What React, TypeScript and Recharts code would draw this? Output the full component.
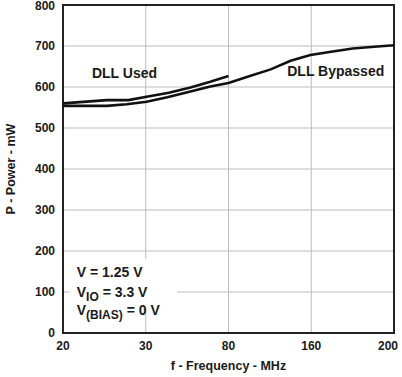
import React from 'react';
import { LineChart, Line, XAxis, YAxis, CartesianGrid, ReferenceArea, ReferenceDot, Label } from 'recharts';

// x values are axis slots: 0 = 20 MHz, 1 = 30, 2 = 80, 3 = 160, 4 = 200 (evenly spaced ticks)
const freqLabels = ['20', '30', '80', '160', '200'];
const slotTicks = [0, 1, 2, 3, 4];
const powerTicks = [0, 100, 200, 300, 400, 500, 600, 700, 800];

const usedSlot = [0, 0.53, 0.79, 1.01, 1.28, 1.54, 1.78, 2.0];
const usedPower = [560, 568, 568, 576, 586, 599, 613, 627];

const bypassSlot = [0, 0.53, 0.77, 1.01, 1.26, 1.54, 1.78, 2.0, 2.23, 2.51, 2.75, 2.99, 3.24, 3.5, 3.76, 4];
const bypassPower = [554, 554, 558, 564, 575, 589, 601, 610, 625, 643, 664, 678, 686, 694, 698, 702];

const usedData = usedSlot.map((s, i) => ({ slot: s, power: usedPower[i] }));
const bypassData = bypassSlot.map((s, i) => ({ slot: s, power: bypassPower[i] }));

const FONT = '"Liberation Sans", Arial, sans-serif';
const INK = '#1a1a1a';

const textAt = (lines: React.ReactNode) => ({ viewBox }: any) => (
  <text x={viewBox.x} y={viewBox.y} fontFamily={FONT} fontWeight="bold" fontSize={14} fill={INK}>
    {lines}
  </text>
);

const yTitle = ({ viewBox }: any) => (
  <text
    x={15}
    y={viewBox.y + viewBox.height / 2}
    transform={`rotate(-90, 15, ${viewBox.y + viewBox.height / 2})`}
    textAnchor="middle"
    fontFamily={FONT}
    fontWeight="bold"
    fontSize={12.5}
    fill={INK}
  >
    P - Power - mW
  </text>
);

const xTitle = ({ viewBox }: any) => (
  <text
    x={viewBox.x + viewBox.width / 2}
    y={370}
    textAnchor="middle"
    fontFamily={FONT}
    fontWeight="bold"
    fontSize={12.5}
    fill={INK}
  >
    f - Frequency - MHz
  </text>
);

// last frequency label is pulled inside the frame like the original
const XTick = ({ x, y, payload, index }: any) => {
  const last = index === freqLabels.length - 1;
  return (
    <text
      x={last ? x + 4 : x}
      y={y + 9}
      textAnchor={last ? 'end' : 'middle'}
      fontFamily={FONT}
      fontWeight="bold"
      fontSize={12}
      fill={INK}
    >
      {freqLabels[payload.value]}
    </text>
  );
};

const YTick = ({ x, y, payload }: any) => (
  <text
    x={x}
    y={Math.max(y, 5.5) + 4.3}
    textAnchor="end"
    fontFamily={FONT}
    fontWeight="bold"
    fontSize={12}
    fill={INK}
  >
    {payload.value}
  </text>
);

export default function App() {
  return (
    <div style={{ position: 'absolute', left: 0, top: 0, background: '#fff' }}>
      <LineChart width={402} height={377} margin={{ top: 5, right: 8, left: 0, bottom: 0 }}>
        <CartesianGrid stroke="#bdbdbd" strokeWidth={1} />
        <XAxis
          type="number"
          dataKey="slot"
          domain={[0, 4]}
          ticks={slotTicks}
          tick={<XTick />}
          tickLine={false}
          axisLine={false}
          height={44}
          interval={0}
        >
          <Label content={xTitle} />
        </XAxis>
        <YAxis
          type="number"
          domain={[0, 800]}
          ticks={powerTicks}
          tick={<YTick />}
          tickLine={false}
          axisLine={false}
          width={63}
          interval={0}
        >
          <Label content={yTitle} />
        </YAxis>
        <ReferenceArea x1={0} x2={4} y1={0} y2={800} fill="none" stroke="#222" strokeWidth={2} ifOverflow="visible" />
        <ReferenceArea x1={0.085} x2={1.38} y1={59} y2={181} fill="#fff" fillOpacity={1} stroke="none" />
        <Line data={bypassData} dataKey="power" type="linear" stroke="#111" strokeWidth={2.6} dot={false} isAnimationActive={false} />
        <Line data={usedData} dataKey="power" type="linear" stroke="#111" strokeWidth={2.6} dot={false} isAnimationActive={false} />
        <ReferenceDot x={0.35} y={622} r={0} fill="none" stroke="none" label={textAt('DLL Used')} />
        <ReferenceDot x={2.71} y={626} r={0} fill="none" stroke="none" label={textAt('DLL Bypassed')} />
        <ReferenceDot x={0.166} y={137} r={0} fill="none" stroke="none" label={textAt('V = 1.25 V')} />
        <ReferenceDot
          x={0.166}
          y={88.5}
          r={0}
          fill="none"
          stroke="none"
          label={textAt(
            <>
              V<tspan fontSize={12} dy={4}>IO</tspan>
              <tspan dy={-4}> = 3.3 V</tspan>
            </>
          )}
        />
        <ReferenceDot
          x={0.166}
          y={44}
          r={0}
          fill="none"
          stroke="none"
          label={textAt(
            <>
              V<tspan fontSize={12} dy={4}>(BIAS)</tspan>
              <tspan dy={-4}> = 0 V</tspan>
            </>
          )}
        />
      </LineChart>
    </div>
  );
}
